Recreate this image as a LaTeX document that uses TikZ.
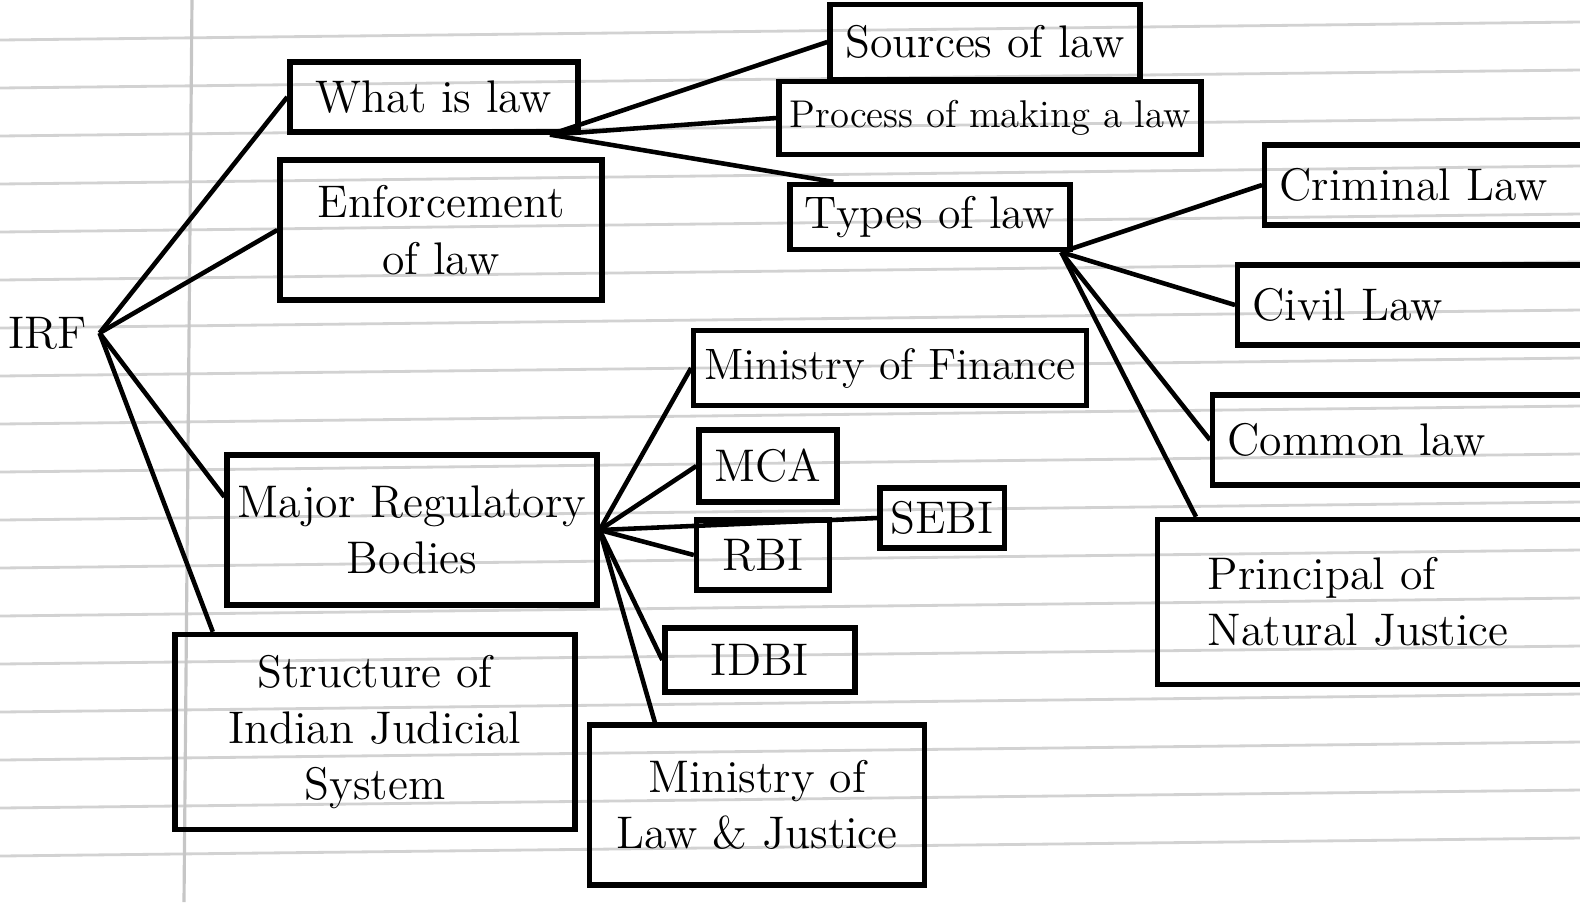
\documentclass[tikz,border=0pt]{standalone}
\usetikzlibrary{calc}
\begin{document}
\begin{tikzpicture}[x=0.01cm,y=-0.01cm,
  box/.style={draw, line width=1.5pt, inner sep=3pt, align=center, font=\fontsize{13}{16}\selectfont},
  openbox/.style={box, anchor=west, minimum width=3.8cm, text width=3.5cm, align=left},
  link/.style={line width=1.3pt},
  rule/.style={draw=gray!35, line width=0.8pt}]
\useasboundingbox (0,0) rectangle (1580,902);
\clip (0,0) rectangle (1580,902);
% notebook ruling
\foreach \y in {40,88,136,184,232,280,328,376,424,472,520,568,616,664,712,760,808,856}
  \draw[rule] (0,\y) -- (1580,\y-18);
\draw[draw=gray!45, line width=0.9pt] (192,0) -- (184,902);
% nodes
\node[font=\fontsize{13}{16}\selectfont] (irf) at (48,333) {IRF};
\node[box, minimum width=2.88cm, minimum height=0.70cm] (what) at (434,97) {What is law};
\node[box, minimum width=3.22cm, minimum height=1.40cm] (enf) at (441,230) {Enforcement\\of law};
\node[box, minimum width=3.45cm, minimum height=1.50cm] (mrb) at (412,530) {Major Regulatory\\Bodies};
\node[box, minimum width=4.00cm, minimum height=1.95cm] (sij) at (375,732) {Structure of\\Indian Judicial\\System};
\node[box, minimum width=3.10cm, minimum height=0.75cm] (src) at (985,42) {Sources of law};
\node[box, minimum width=4.00cm, minimum height=0.73cm, font=\fontsize{11}{14}\selectfont] (proc) at (990,118) {Process of making a law};
\node[box, minimum width=2.80cm, minimum height=0.65cm] (types) at (930,217) {Types of law};
\node[openbox, minimum height=0.80cm] (crim) at (1262,185) {Criminal Law};
\node[openbox, minimum height=0.80cm] (civil) at (1235,305) {Civil Law};
\node[openbox, minimum height=0.90cm] (common) at (1210,440) {Common law};
\node[openbox, minimum width=4.5cm, text width=4.1cm, minimum height=1.65cm] (pnj) at (1155,602) {\hspace*{0.3cm}Principal of\\\hspace*{0.3cm}Natural Justice};
\node[box, minimum width=3.70cm, minimum height=0.75cm, font=\fontsize{12.5}{15}\selectfont] (mof) at (890,368) {Ministry of Finance};
\node[box, minimum width=1.38cm, minimum height=0.72cm] (mca) at (768,466) {MCA};
\node[box, minimum width=1.23cm, minimum height=0.60cm] (sebi) at (942,518) {SEBI};
\node[box, minimum width=1.33cm, minimum height=0.70cm] (rbi) at (763,555) {RBI};
\node[box, minimum width=1.90cm, minimum height=0.64cm] (idbi) at (760,660) {IDBI};
\node[box, minimum width=3.35cm, minimum height=1.60cm] (mlj) at (757,805) {Ministry of\\Law \& Justice};
% junctions
\coordinate (wj) at (what.-18);
\coordinate (tj) at (types.-15);
\coordinate (mj) at (mrb.east);
% connectors
\draw[link] (irf.east) -- (what.west);
\draw[link] (irf.east) -- (enf.west);
\draw[link] (irf.east) -- (mrb.170);
\draw[link] (irf.east) -- ($(sij.north west)!0.1!(sij.north east)$);
\draw[link] (wj) -- (src.west);
\draw[link] (wj) -- (proc.west);
\draw[link] (wj) -- (types.160);
\draw[link] (tj) -- (crim.west);
\draw[link] (tj) -- (civil.west);
\draw[link] (tj) -- (common.west);
\draw[link] (tj) -- ($(pnj.north west)!0.09!(pnj.north east)$);
\draw[link] (mj) -- (mof.west);
\draw[link] (mj) -- (mca.west);
\draw[link] (mj) -- (sebi.west);
\draw[link] (mj) -- (rbi.west);
\draw[link] (mj) -- (idbi.west);
\draw[link] (mj) -- ($(mlj.north west)!0.2!(mlj.north east)$);
\end{tikzpicture}
\end{document}
